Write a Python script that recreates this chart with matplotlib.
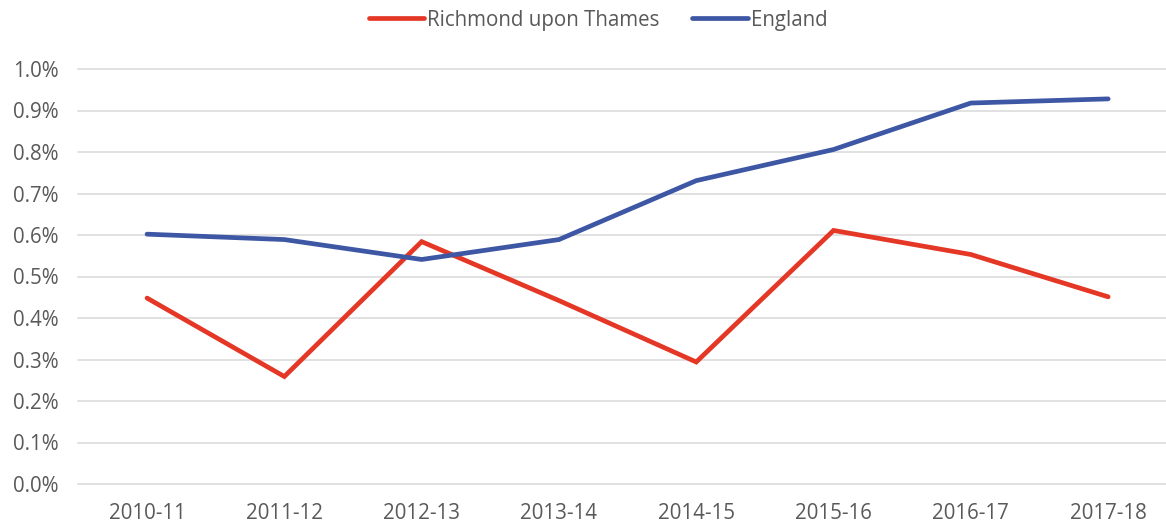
import numpy as np
import matplotlib.pyplot as plt
from matplotlib.ticker import PercentFormatter

years = ['2010-11', '2011-12', '2012-13', '2013-14', '2014-15', '2015-16', '2016-17', '2017-18']
richmond = [0.448, 0.259, 0.584, 0.442, 0.294, 0.611, 0.553, 0.451]
england = [0.602, 0.589, 0.541, 0.589, 0.731, 0.806, 0.918, 0.928]
y_ticks = np.arange(0, 1.01, 0.1)

plt.rcParams['font.family'] = ['Open Sans', 'DejaVu Sans']

fig = plt.figure(figsize=(11.66, 5.27), dpi=100)
ax = fig.add_axes([78.4 / 1166, 43 / 527, (1166 - 78.4) / 1166, 415 / 527])

x = np.arange(len(years))
ax.plot(x, richmond, color='#E53726', lw=3.4, solid_capstyle='round',
        solid_joinstyle='miter', label='Richmond upon Thames', zorder=3)
ax.plot(x, england, color='#3D57A5', lw=3.4, solid_capstyle='round',
        solid_joinstyle='miter', label='England', zorder=3)

ax.set_xlim(-0.5, -0.5 + (1166 - 78.4) / 137.3)
ax.set_ylim(0, 1.0)
ax.set_xticks(x)
ax.set_xticklabels(years)
ax.set_yticks(y_ticks)
ax.yaxis.set_major_formatter(PercentFormatter(decimals=1))
ax.grid(axis='y', color='#D9D9D9', lw=1.1, zorder=0)
ax.set_axisbelow(True)
for s in ax.spines.values():
    s.set_visible(False)
ax.tick_params(axis='both', length=0, colors='#595959', labelsize=14.8)
ax.tick_params(axis='x', pad=14)
ax.tick_params(axis='y', pad=14)
for gl in ax.get_ygridlines():
    gl.set_clip_on(False)

leg = fig.legend(loc='upper center', bbox_to_anchor=(0.513, 1.017), ncol=2, frameon=False,
                 fontsize=14.8, handlelength=2.7, handletextpad=0.15, columnspacing=1.6)
for t in leg.get_texts():
    t.set_color('#595959')

fig.savefig('out.png', dpi=100)
